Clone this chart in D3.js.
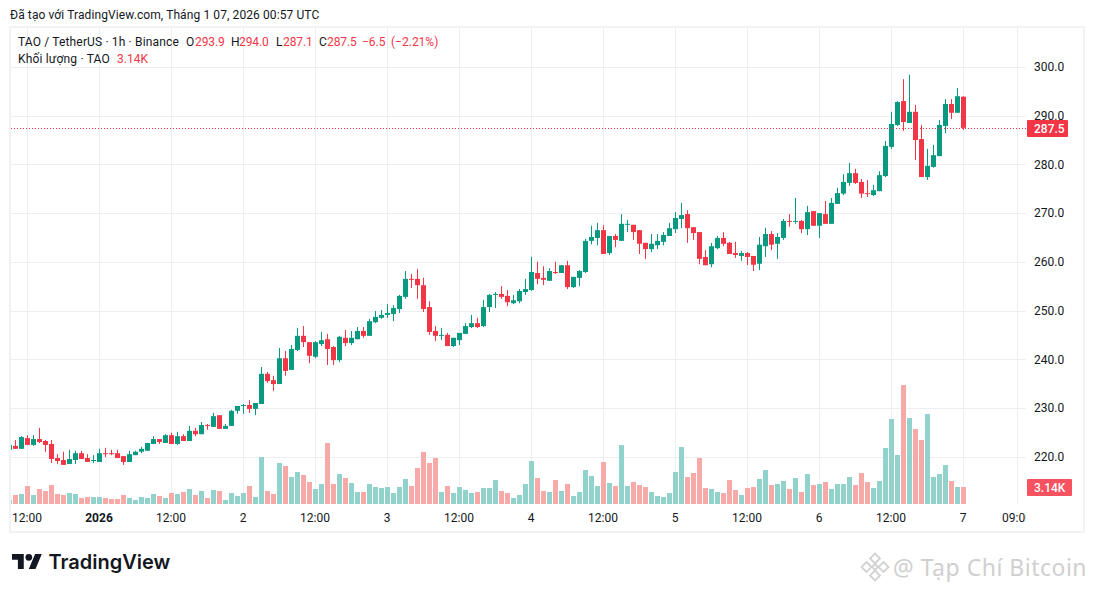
<!DOCTYPE html>
<html>
<head>
<meta charset="utf-8">
<script src="https://cdn.jsdelivr.net/npm/d3@7.9.0/dist/d3.min.js"></script>
<style>
  html, body { margin: 0; padding: 0; background: #fff; }
  svg { display: block; font-family: Roboto, sans-serif; }
  .axis path, .axis line { display: none; }
  .axis text { font-family: Roboto, sans-serif; font-size: 12px; fill: #131722; }
</style>
</head>
<body>
<svg id="chart" width="1094" height="592"></svg>
<script>
// ---------- Data ----------
const firstCandle = "2025-12-31T09:00:00Z";

const opens = [
  221.4,222.2,221.6,223.8,222.4,223.6,223.2,222.6,219.7,219.3,218.5,219.3,220.7,219.7,219.1,218.9,
  220.7,220.7,220.7,220.1,218.9,220.3,221.0,221.2,222.6,223.6,222.8,224.4,222.6,224.2,223.2,225.3,
  224.6,226.5,226.1,228.5,225.7,226.3,229.4,230.4,230.6,229.8,230.8,237.0,235.7,234.9,240.2,237.8,
  241.9,244.8,243.5,240.5,243.1,244.1,242.5,239.8,244.4,243.3,244.1,245.8,244.8,247.6,248.5,249.1,
  249.3,250.3,252.8,256.5,256.5,255.2,250.7,245.8,244.8,245.0,242.7,243.9,245.2,246.6,247.4,246.8,
  250.7,253.2,253.4,253.0,251.5,251.9,253.8,254.2,257.7,256.7,256.1,257.9,257.7,259.3,254.8,256.7,
  257.9,264.3,264.9,266.5,261.8,265.3,264.3,267.6,267.6,266.5,263.9,262.6,263.4,264.1,265.3,266.7,
  268.8,269.8,267.1,266.1,261.0,259.5,262.8,264.9,263.9,261.8,261.2,261.8,261.2,259.6,263.2,265.7,
  263.7,264.9,268.4,268.2,268.4,266.7,270.4,267.4,269.8,267.8,271.9,274.0,276.2,278.2,276.4,274.1,
  273.7,274.5,277.6,283.6,288.1,293.0,288.5,290.8,285.2,277.4,279.5,281.7,287.9,292.4,290.6,293.9
];
const highs = [
  222.5,223.4,224.2,224.4,224.4,225.9,223.4,223.4,220.5,221.0,221.4,221.2,221.2,220.5,220.3,221.6,
  221.8,221.4,221.4,220.1,221.2,221.2,222.0,222.8,224.2,223.6,224.6,224.9,225.1,224.6,226.3,225.9,
  227.1,226.7,229.0,228.5,226.7,229.6,230.4,230.8,231.6,231.0,238.4,237.4,236.6,242.3,241.7,242.9,
  246.4,246.8,243.5,243.7,245.6,245.2,242.7,244.8,246.0,245.8,246.6,246.6,248.3,249.9,250.1,251.3,
  251.1,253.2,258.1,257.5,258.5,256.7,251.9,246.8,246.4,245.4,244.4,245.4,247.4,249.1,248.5,252.2,
  253.4,253.8,255.0,254.2,253.2,254.4,256.5,261.0,260.0,259.1,258.7,260.0,259.3,260.2,256.9,258.3,
  264.7,267.4,268.0,267.5,265.3,265.7,269.8,268.6,267.6,266.5,263.9,265.7,265.7,266.1,268.0,270.2,
  272.1,270.6,267.1,266.1,262.4,263.9,265.3,266.1,264.1,264.1,262.2,262.0,261.2,265.1,267.0,266.3,
  265.9,268.8,269.8,273.1,268.6,271.5,270.4,270.0,272.5,273.1,275.2,278.0,280.3,279.1,277.0,276.8,
  275.8,278.6,284.8,290.8,293.0,297.5,298.4,292.2,288.1,283.2,284.0,289.1,293.4,293.4,295.7,294.0
];
const lows = [
  221.3,221.6,221.6,222.4,222.2,222.8,221.0,218.7,218.5,218.3,218.5,218.5,219.5,218.9,218.7,218.9,
  219.9,220.3,219.7,218.3,218.9,220.3,220.7,221.2,222.6,222.6,222.8,222.6,222.4,223.2,223.2,224.2,
  224.6,225.5,226.1,225.7,225.7,226.3,228.8,228.8,229.0,228.5,230.8,235.1,233.5,234.9,236.6,237.8,
  241.7,242.5,239.2,240.2,242.7,238.8,238.8,239.4,242.7,242.9,244.1,244.4,244.8,247.4,248.3,248.5,
  247.8,249.5,252.4,254.6,252.4,249.7,245.0,243.7,243.9,242.7,242.5,242.9,245.2,246.4,246.4,246.6,
  249.7,250.5,252.4,250.9,251.3,251.5,253.2,254.0,255.4,255.2,256.1,257.5,257.7,254.4,254.6,255.0,
  257.7,263.6,263.4,261.6,261.4,263.0,264.3,266.1,264.5,261.6,260.6,262.0,262.6,263.4,265.3,265.9,
  266.9,263.9,264.5,259.5,259.3,258.9,262.6,263.2,261.6,260.8,260.2,259.3,258.1,258.3,261.0,262.4,
  260.6,264.5,267.2,267.8,265.9,265.5,267.4,264.9,267.8,267.8,271.9,273.7,275.6,276.0,273.1,273.3,
  273.5,274.5,277.4,283.2,287.9,286.9,288.5,280.9,277.4,276.8,279.3,281.7,286.4,289.3,290.6,287.1
];
const closes = [
  222.4,221.6,224.0,222.4,223.6,223.0,222.4,219.5,219.1,218.3,219.5,220.7,219.5,218.9,219.3,220.7,
  220.5,220.5,219.7,218.9,220.5,221.0,221.6,222.8,223.6,223.0,224.4,222.6,224.2,223.2,225.3,224.6,
  226.5,226.3,228.3,225.7,226.3,229.4,230.4,230.6,229.8,231.0,237.0,235.5,234.9,240.2,237.6,242.1,
  244.8,243.5,240.7,243.5,243.9,242.1,239.8,244.6,243.3,244.4,245.8,244.8,247.8,248.7,249.1,249.5,
  250.5,253.0,256.5,256.3,255.2,250.3,245.6,244.8,245.0,242.7,244.4,245.4,246.8,247.4,246.6,250.7,
  253.2,253.4,252.8,251.7,252.1,254.0,254.4,257.9,256.5,256.3,258.1,257.7,259.3,254.8,256.9,258.1,
  264.3,265.1,266.5,261.6,265.3,264.5,267.8,267.8,266.1,263.7,262.6,263.7,264.3,265.5,266.9,269.0,
  269.6,266.9,265.9,260.6,259.3,263.2,264.9,263.7,261.6,261.4,261.8,261.0,259.4,263.5,265.7,263.5,
  265.1,268.4,268.2,268.4,266.7,270.2,267.4,270.0,267.8,272.1,274.1,276.4,278.2,276.2,274.0,274.0,
  274.7,277.8,283.8,288.3,292.8,288.7,290.8,285.0,277.4,279.7,281.9,288.1,292.4,290.6,294.0,287.5
];
// thousands of TAO
const volumes = [
  0.74,1.66,1.85,3.33,1.66,2.77,2.40,3.51,1.85,1.66,2.03,1.85,1.11,1.29,1.29,1.29,
  1.11,0.92,0.92,1.66,1.11,0.74,1.29,1.11,1.85,1.48,1.11,2.03,1.85,2.22,2.77,1.66,
  2.40,1.11,2.59,2.40,0.74,2.03,1.48,2.03,3.33,1.29,8.69,2.40,1.85,7.58,7.02,4.99,
  5.91,5.36,4.07,2.77,3.70,11.27,3.70,5.54,4.80,3.88,2.22,2.22,3.70,3.14,2.96,3.14,
  2.03,3.14,4.62,3.33,6.65,9.61,7.58,8.50,2.22,3.33,2.03,3.14,2.59,2.03,2.22,2.96,
  2.96,4.44,2.40,2.03,1.11,1.66,3.70,7.95,4.80,2.40,2.22,4.44,2.40,3.70,1.48,2.22,
  6.28,5.17,3.33,7.76,3.88,3.33,10.90,3.33,4.07,3.51,3.14,2.22,1.48,1.29,2.03,5.91,
  10.53,4.99,5.73,8.50,2.96,2.77,2.22,2.03,4.44,2.59,1.66,2.96,3.14,4.62,6.28,3.51,
  3.70,4.25,2.77,4.80,2.22,5.54,3.51,3.70,4.07,2.77,3.70,3.70,4.99,3.51,5.73,4.07,
  2.96,4.25,10.35,15.71,9.06,21.99,15.89,13.86,11.83,16.63,4.99,5.54,7.21,4.25,3.14,3.14
];

const priceTicks = [220, 230, 240, 250, 260, 270, 280, 290, 300];
const timeTicks = [
  ["2025-12-31T12:00:00Z", "12:00"], ["2026-01-01T00:00:00Z", "2026"],
  ["2026-01-01T12:00:00Z", "12:00"], ["2026-01-02T00:00:00Z", "2"],
  ["2026-01-02T12:00:00Z", "12:00"], ["2026-01-03T00:00:00Z", "3"],
  ["2026-01-03T12:00:00Z", "12:00"], ["2026-01-04T00:00:00Z", "4"],
  ["2026-01-04T12:00:00Z", "12:00"], ["2026-01-05T00:00:00Z", "5"],
  ["2026-01-05T12:00:00Z", "12:00"], ["2026-01-06T00:00:00Z", "6"],
  ["2026-01-06T12:00:00Z", "12:00"], ["2026-01-07T00:00:00Z", "7"],
  ["2026-01-07T09:00:00Z", "09:00"]
];

const HOUR = 3600 * 1000;
const t0 = +new Date(firstCandle);
const candles = opens.map((o, i) => ({
  time: new Date(t0 + i * HOUR),
  o, h: highs[i], l: lows[i], c: closes[i], v: volumes[i]
}));

// ---------- Colours ----------
const UP = "#089981", DOWN = "#f23645";
const UP_VOL = "#92d2cc", DOWN_VOL = "#f7a9a7";
const GRID = "#eceef2", FRAME = "#f1f2f5", INK = "#131722";

// ---------- Scales ----------
const xScale = d3.scaleUtc()
  .domain([new Date(firstCandle), new Date("2026-01-07T09:00:00Z")])
  .range([9.5, 1017.5]);
const yScale = d3.scaleLinear().domain([220, 300]).range([456.6, 67]);
const volScale = d3.scaleLinear().domain([0, 22]).range([504, 385]);

const svg = d3.select("#chart");
const defs = svg.append("defs");
defs.append("clipPath").attr("id", "pane")
  .append("rect").attr("x", 11).attr("y", 28).attr("width", 1015).attr("height", 503);

// ---------- Frame & header ----------
svg.append("rect").attr("x", 10).attr("y", 27).attr("width", 1074).attr("height", 505)
  .attr("fill", "none").attr("stroke", FRAME).attr("stroke-width", 2);

svg.append("text").attr("x", 10).attr("y", 19)
  .attr("font-size", 12).attr("letter-spacing", 0.1).attr("fill", INK)
  .text("Đã tạo với TradingView.com, Tháng 1 07, 2026 00:57 UTC");

// ---------- Grid ----------
const pane = svg.append("g").attr("clip-path", "url(#pane)");
pane.append("g").selectAll("line").data(priceTicks).join("line")
  .attr("x1", 11).attr("x2", 1026)
  .attr("y1", (d) => Math.round(yScale(d)) + 0.5).attr("y2", (d) => Math.round(yScale(d)) + 0.5)
  .attr("stroke", GRID);
pane.append("g").selectAll("line").data(timeTicks).join("line")
  .attr("x1", (d) => xScale(new Date(d[0]))).attr("x2", (d) => xScale(new Date(d[0])))
  .attr("y1", 28).attr("y2", 504)
  .attr("stroke", GRID);

// ---------- Volume ----------
pane.append("g").selectAll("rect").data(candles).join("rect")
  .attr("x", (d) => xScale(d.time) - 2.5)
  .attr("width", 5)
  .attr("y", (d) => volScale(d.v))
  .attr("height", (d) => volScale(0) - volScale(d.v))
  .attr("fill", (d) => (d.c >= d.o ? UP_VOL : DOWN_VOL));

// ---------- Candles ----------
const candleG = pane.append("g").selectAll("g").data(candles).join("g")
  .attr("fill", (d) => (d.c >= d.o ? UP : DOWN));
candleG.append("rect")
  .attr("x", (d) => xScale(d.time) - 0.5)
  .attr("width", 1)
  .attr("y", (d) => yScale(d.h))
  .attr("height", (d) => yScale(d.l) - yScale(d.h));
candleG.append("rect")
  .attr("x", (d) => xScale(d.time) - 2.5)
  .attr("width", 5)
  .attr("y", (d) => yScale(Math.max(d.o, d.c)))
  .attr("height", (d) => Math.max(1, Math.abs(yScale(d.o) - yScale(d.c))));

// ---------- Last price line ----------
const last = candles[candles.length - 1];
pane.append("line")
  .attr("x1", 11).attr("x2", 1026)
  .attr("y1", Math.round(yScale(last.c)) + 0.5).attr("y2", Math.round(yScale(last.c)) + 0.5)
  .attr("stroke", DOWN).attr("stroke-dasharray", "1 2");

// ---------- Axes ----------
const yAxis = d3.axisRight(yScale).tickValues(priceTicks).tickSize(0).tickFormat(d3.format(".1f"));
svg.append("g").attr("class", "axis").attr("transform", "translate(1034,0)").call(yAxis)
  .selectAll("text").attr("x", 0);

const timeLabels = new Map(timeTicks.map((d) => [+new Date(d[0]), d[1]]));
const xAxis = d3.axisBottom(xScale)
  .tickValues(timeTicks.map((d) => new Date(d[0])))
  .tickSize(0)
  .tickFormat((d) => timeLabels.get(+d));
const xG = svg.append("g").attr("class", "axis").attr("transform", "translate(0,504)")
  .attr("clip-path", "url(#xclip)").call(xAxis);
xG.selectAll("text").attr("y", 9).attr("dx", -1)
  .attr("font-weight", (d) => (timeLabels.get(+d) === "2026" ? 700 : 400));
defs.append("clipPath").attr("id", "xclip")
  .append("rect").attr("x", 11).attr("y", 0).attr("width", 1015).attr("height", 27);

// ---------- Price tags ----------
function tag(y, w, h, fill, label) {
  svg.append("rect").attr("x", 1027).attr("y", y).attr("width", w).attr("height", h)
    .attr("rx", 1).attr("fill", fill);
  svg.append("text").attr("x", 1034).attr("y", y + h / 2 + 4.3)
    .attr("font-size", 12).attr("font-weight", 500).attr("fill", "#fff").text(label);
}
tag(120, 41, 17, DOWN, last.c.toFixed(1));
tag(479, 45, 17, "#f7525f", (last.v).toFixed(2) + "K");

// ---------- Legend ----------
const legend = svg.append("g").attr("font-size", 12);
function legendText(x, y, str, fill, spacing = 0) {
  legend.append("text").attr("x", x).attr("y", y).attr("fill", fill)
    .attr("letter-spacing", spacing).text(str);
}
legendText(18, 46, "TAO / TetherUS · 1h · Binance", INK, 0.15);
legendText(186, 46, "O", INK);
legendText(195, 46, last.o.toFixed(1), DOWN, -0.1);
legendText(231, 46, "H", INK);
legendText(239, 46, last.h.toFixed(1), DOWN, -0.1);
legendText(276, 46, "L", INK);
legendText(283, 46, last.l.toFixed(1), DOWN, -0.1);
legendText(319, 46, "C", INK);
legendText(327, 46, last.c.toFixed(1), DOWN, -0.1);
legendText(362, 46, "−6.5", DOWN);
legendText(391, 46, "(−2.21%)", DOWN);
legendText(18, 63, "Khối lượng · TAO", INK, 0.18);
legendText(117, 63, (last.v).toFixed(2) + "K", DOWN);

// ---------- TradingView logo ----------
const logo = svg.append("g").attr("transform", "translate(12,550.6) scale(0.84)").attr("fill", "#131722");
logo.append("path").attr("d", "M14 22H7V11H0V4h14v18zM28 22h-8l7.5-18h8L28 22z");
logo.append("circle").attr("cx", 20).attr("cy", 8).attr("r", 4);
svg.append("text").attr("x", 48.5).attr("y", 568.5)
  .attr("font-family", "Inter, sans-serif").attr("font-size", 20).attr("font-weight", 600)
  .attr("fill", "#131722").text("TradingView");

// ---------- Watermark ----------
const mark = svg.append("g").attr("fill", "none").attr("stroke", "#d2d2d2").attr("stroke-width", 1.8);
[[875, 558.5, 5], [866.5, 567, 5], [883.5, 567, 5], [875, 575.5, 5], [875, 567, 3]].forEach(([cx, cy, r]) => {
  mark.append("path").attr("d", `M${cx} ${cy - r}L${cx + r} ${cy}L${cx} ${cy + r}L${cx - r} ${cy}Z`);
});
svg.append("text").attr("x", 893).attr("y", 576)
  .attr("font-family", "'Noto Sans', sans-serif").attr("font-size", 23).attr("letter-spacing", 0.5)
  .attr("fill", "#cfcfcf").text("@ Tạp Chí Bitcoin");
</script>
</body>
</html>
